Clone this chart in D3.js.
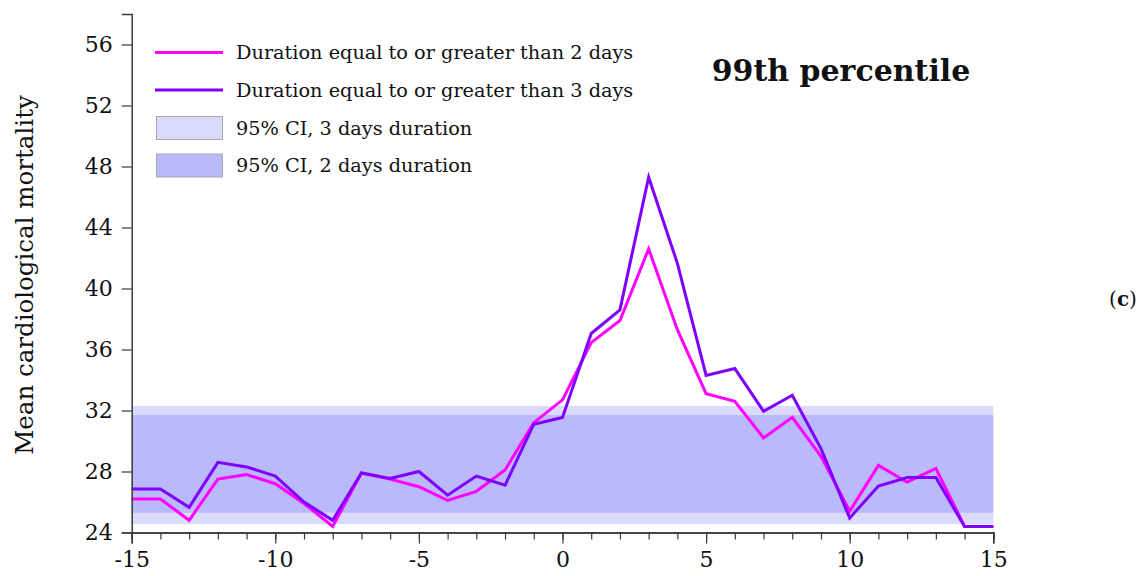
<!DOCTYPE html>
<html>
<head>
<meta charset="utf-8">
<script src="https://cdn.jsdelivr.net/npm/d3@7"></script>
<style>
  body { margin: 0; background: #fff; }
  svg { font-family: "DejaVu Serif", "Liberation Serif", serif; }
</style>
</head>
<body>
<svg id="drawing_region"></svg>
<script>
// days relative to event
const days = d3.range(-15, 16);
// duration >= 2 days
const dur2 = [26.2, 26.2, 24.8, 27.5, 27.8, 27.2, 25.9, 24.4, 27.9, 27.5, 27.0, 26.1, 26.7, 28.1, 31.2, 32.7,
              36.45, 37.9, 42.6, 37.3, 33.1, 32.6, 30.2, 31.55, 29.0, 25.4, 28.4, 27.3, 28.2, 24.4, 24.4];
// duration >= 3 days
const dur3 = [26.85, 26.85, 25.65, 28.6, 28.3, 27.7, 26.0, 24.8, 27.9, 27.55, 28.0, 26.45, 27.7, 27.1, 31.1, 31.55,
              37.05, 38.6, 47.3, 41.65, 34.3, 34.75, 31.95, 33.0, 29.5, 24.95, 27.05, 27.6, 27.6, 24.4, 24.4];
// confidence intervals [low, high]
const ci3 = [24.55, 32.3];
const ci2 = [25.3, 31.7];
const yTicks = [24, 28, 32, 36, 40, 44, 48, 52, 56];
const xMajor = [-15, -10, -5, 0, 5, 10, 15];
const legendLabels = ["Duration equal to or greater than 2 days", "Duration equal to or greater than 3 days",
                      "95% CI, 3 days duration", "95% CI, 2 days duration"];

const config = {
    width: 1142,
    height: 576,
    margin: {top: 14, right: 148.7, bottom: 43.5, left: 131.7}
};
const colors = {d2: "#ff00ff", d3: "#7f00ff", ci3: "#dadafc", ci2: "#b9b9fb", axis: "#3a3a3a"};

const svg = d3.select("#drawing_region")
    .attr("width", config.width)
    .attr("height", config.height);

const innerW = config.width - config.margin.left - config.margin.right;
const innerH = config.height - config.margin.top - config.margin.bottom;

const chart = svg.append("g")
    .attr("transform", `translate(${config.margin.left}, ${config.margin.top})`);

const x = d3.scaleLinear().domain([-15, 15]).range([0, innerW]);
const y = d3.scaleLinear().domain([24, 58]).range([innerH, 0]);

// CI bands
chart.append("rect")
    .attr("x", x(-15)).attr("width", x(15) - x(-15))
    .attr("y", y(ci3[1])).attr("height", y(ci3[0]) - y(ci3[1]))
    .attr("fill", colors.ci3);
chart.append("rect")
    .attr("x", x(-15)).attr("width", x(15) - x(-15))
    .attr("y", y(ci2[1])).attr("height", y(ci2[0]) - y(ci2[1]))
    .attr("fill", colors.ci2);

// lines
const line = d3.line()
    .x((d, i) => x(days[i]))
    .y(d => y(d));

chart.append("path")
    .datum(dur2)
    .attr("d", line)
    .attr("fill", "none")
    .attr("stroke", colors.d2)
    .attr("stroke-width", 3);
chart.append("path")
    .datum(dur3)
    .attr("d", line)
    .attr("fill", "none")
    .attr("stroke", colors.d3)
    .attr("stroke-width", 3);

// axes
const xMinor = chart.append("g")
    .attr("transform", `translate(0, ${innerH})`)
    .call(d3.axisBottom(x).tickValues(days).tickSize(7).tickFormat(""));
const xAxis = chart.append("g")
    .attr("transform", `translate(0, ${innerH})`)
    .call(d3.axisBottom(x).tickValues(xMajor).tickSize(11).tickPadding(8).tickFormat(d => String(d)));
const yAxis = chart.append("g")
    .call(d3.axisLeft(y).tickValues(yTicks).tickSize(10).tickPadding(9).tickFormat(d => String(d)));

[xMinor, xAxis, yAxis].forEach(g => {
    g.selectAll(".domain").attr("stroke", colors.axis).attr("stroke-width", 1.5);
    g.selectAll(".tick line").attr("stroke", colors.axis).attr("stroke-width", 1.2);
    g.selectAll("text")
        .attr("font-family", "\"DejaVu Serif\", \"Liberation Serif\", serif")
        .attr("font-size", "22px")
        .attr("fill", "#111");
});

// y label
svg.append("text")
    .attr("transform", `translate(33, 275) rotate(-90)`)
    .attr("text-anchor", "middle")
    .attr("font-size", "24.5px")
    .attr("fill", "#111")
    .text("Mean cardiological mortality");

// title
svg.append("text")
    .attr("x", 841)
    .attr("y", 81)
    .attr("text-anchor", "middle")
    .attr("font-size", "30px")
    .attr("font-weight", "bold")
    .attr("fill", "#111")
    .text("99th percentile");

// panel letter
const letter = svg.append("text")
    .attr("x", 1123)
    .attr("y", 306)
    .attr("text-anchor", "middle")
    .attr("font-size", "20px")
    .attr("fill", "#111");
letter.append("tspan").text("(");
letter.append("tspan").attr("font-weight", "bold").text("c");
letter.append("tspan").text(")");

// legend
const legend = svg.append("g");
const rowY = [52.5, 90, 128, 165.5];
legend.selectAll("line.leg")
    .data([colors.d2, colors.d3])
    .enter().append("line")
    .attr("x1", 155).attr("x2", 223)
    .attr("y1", (d, i) => rowY[i]).attr("y2", (d, i) => rowY[i])
    .attr("stroke", d => d)
    .attr("stroke-width", 3);
legend.selectAll("rect.leg")
    .data([colors.ci3, colors.ci2])
    .enter().append("rect")
    .attr("x", 156.5).attr("width", 66)
    .attr("y", (d, i) => rowY[i + 2] - 11.5).attr("height", 23)
    .attr("fill", d => d)
    .attr("stroke", "#a8a8a8")
    .attr("stroke-width", 1);
legend.selectAll("text")
    .data(legendLabels)
    .enter().append("text")
    .attr("x", 236)
    .attr("y", (d, i) => rowY[i] + 6.5)
    .attr("font-size", "19.3px")
    .attr("fill", "#111")
    .text(d => d);
</script>
</body>
</html>
